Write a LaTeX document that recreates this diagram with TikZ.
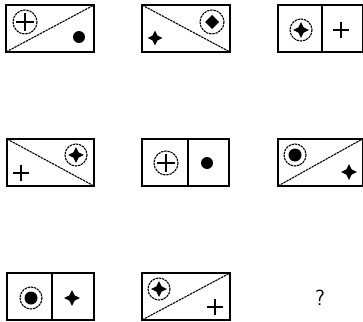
\documentclass[tikz,border=0pt]{standalone}
\usepackage{tikz}
\begin{document}
\begin{tikzpicture}[x=1pt,y=-1pt,
  boxframe/.style={draw=black,line width=1.7pt},
  diag/.style={draw=black,line width=1.1pt,dash pattern=on 2.4pt off 0.8pt},
  ring/.style={draw=black,line width=1.1pt,dash pattern=on 2.4pt off 0.8pt},
  thinline/.style={draw=black,line width=1.1pt}]
\useasboundingbox (0,0) rectangle (363,321);
\newcommand{\myStar}[3]{\fill[black] (#1,#2) ++(0,-#3) -- ++(0.33*#3,0.67*#3) -- ++(0.67*#3,0.33*#3) -- ++(-0.67*#3,0.33*#3) -- ++(-0.33*#3,0.67*#3) -- ++(-0.33*#3,-0.67*#3) -- ++(-0.67*#3,-0.33*#3) -- ++(0.67*#3,-0.33*#3) -- cycle;}
\newcommand{\myPlus}[3]{\draw[thinline] (#1-#3,#2) -- (#1+#3,#2) (#1,#2-#3) -- (#1,#2+#3);}
\newcommand{\myDot}[3]{\fill[black] (#1,#2) circle (#3);}
\newcommand{\myDiamond}[3]{\fill[black] (#1,#2-#3) -- (#1+#3,#2) -- (#1,#2+#3) -- (#1-#3,#2) -- cycle;}
\newcommand{\myRing}[3]{\draw[ring] (#1,#2) circle (#3);}
% Box 1
\draw[boxframe] (6,5) rectangle (94,52);
\draw[diag] (6,52) -- (94,5);
\myRing{25}{22}{12}\myPlus{25}{22}{9}
\myDot{79}{37}{6}
% Box 2
\draw[boxframe] (142,5) rectangle (230,52);
\draw[diag] (142,5) -- (230,52);
\myRing{212}{22}{12}\myDiamond{212}{22}{7}
\myStar{155}{38}{7.5}
% Box 3
\draw[boxframe] (278,5) rectangle (362.4,52);
\draw[thinline] (322,5) -- (322,52);
\myRing{301}{30}{11}\myStar{301}{30}{8}
\myPlus{341}{30}{8}
% Box 4
\draw[boxframe] (7,139) rectangle (94,186);
\draw[diag] (7,139) -- (94,186);
\myRing{76}{155}{11}\myStar{76}{155}{8}
\myPlus{21}{173}{8}
% Box 5
\draw[boxframe] (142,139) rectangle (229,186);
\draw[thinline] (188,139) -- (188,186);
\myRing{166}{163}{12}\myPlus{166}{163}{9}
\myDot{207}{163}{6}
% Box 6
\draw[boxframe] (278,139) rectangle (362.4,186);
\draw[diag] (278,186) -- (362.4,139);
\myRing{295}{155}{11}\myDot{295}{155}{6.5}
\myStar{349}{172}{8}
% Box 7
\draw[boxframe] (7,273) rectangle (94,320);
\draw[thinline] (52,273) -- (52,320);
\myRing{31}{298}{11}\myDot{31}{298}{6.5}
\myStar{72}{298}{8}
% Box 8
\draw[boxframe] (142,273) rectangle (230,320);
\draw[diag] (142,320) -- (230,273);
\myRing{159}{289}{11}\myStar{159}{289}{8}
\myPlus{215}{307}{8}
% Question mark
\node[font=\sffamily\fontsize{22}{24}\selectfont] (q) at (320,298) {?};
\end{tikzpicture}
\end{document}
